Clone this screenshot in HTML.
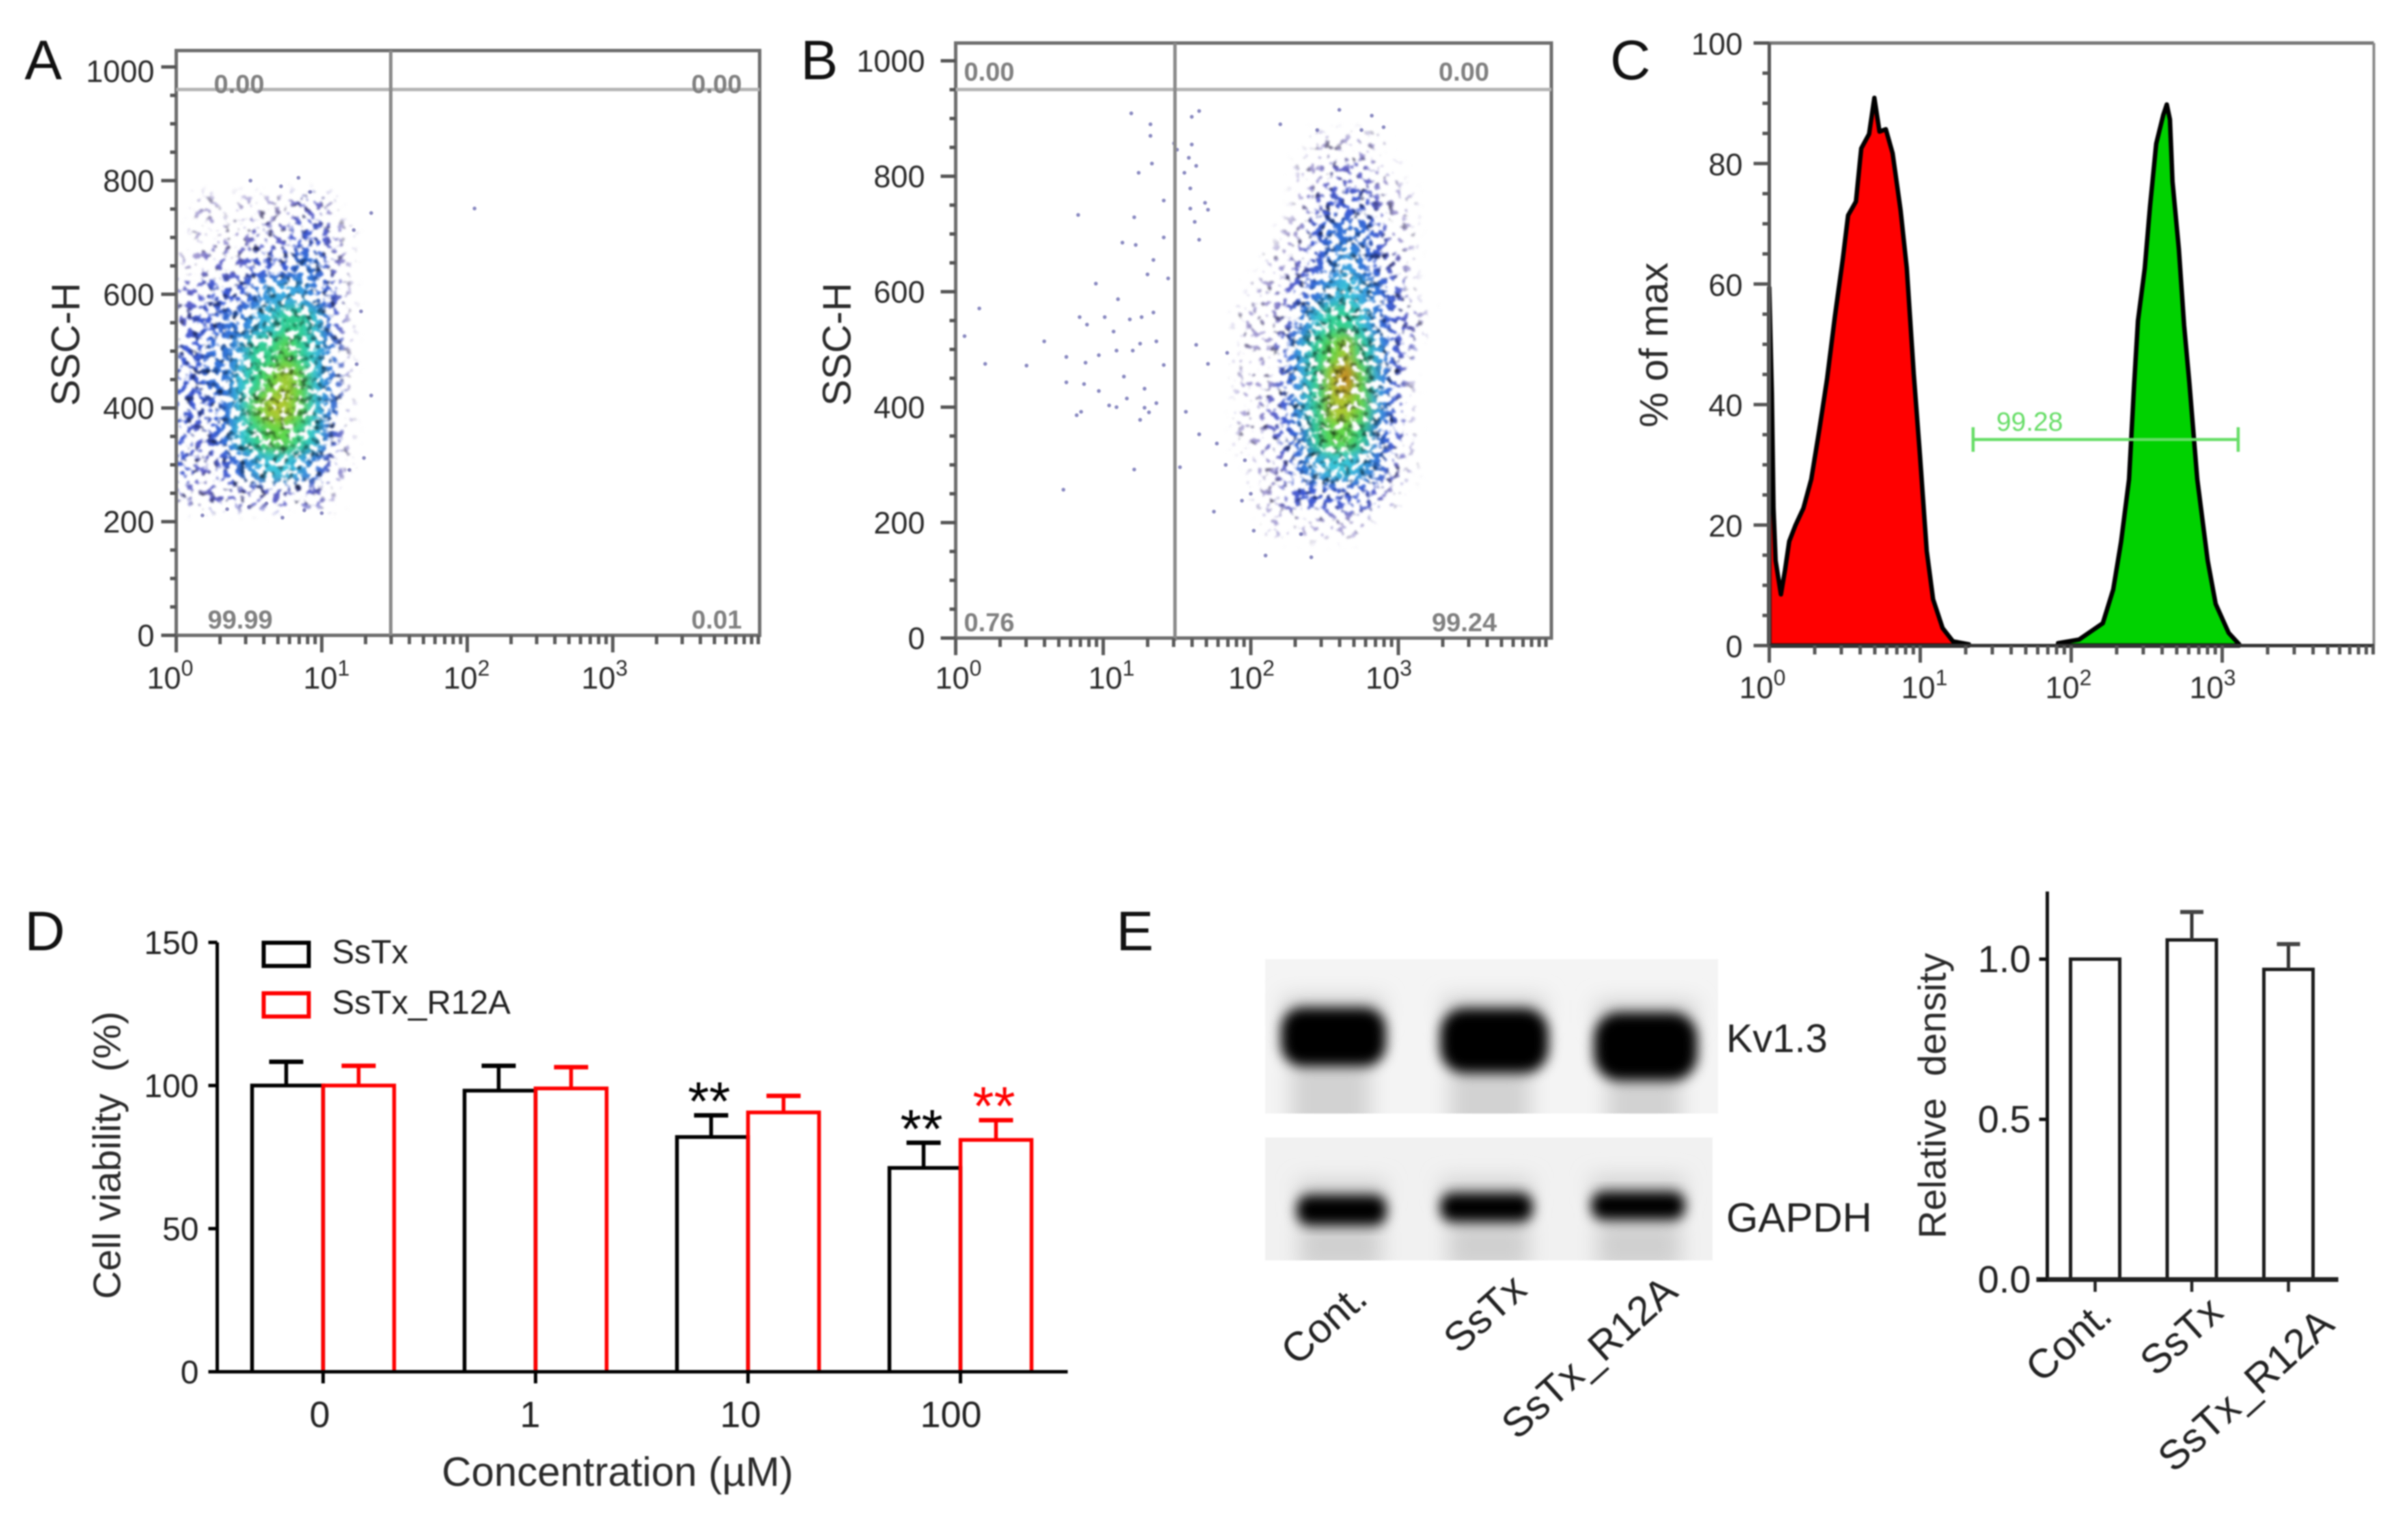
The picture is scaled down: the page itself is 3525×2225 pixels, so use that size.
<!DOCTYPE html>
<html lang="en">
<head>
<meta charset="utf-8">
<title>Flow cytometry, viability and western blot figure</title>
<style>
html,body{margin:0;padding:0;background:#fff;width:3525px;height:2225px;overflow:hidden}
#figure{position:absolute;left:0;top:0;filter:blur(1.1px)}
text{font-family:"Liberation Sans",sans-serif;fill:#222}
.letter{font-size:82px;fill:#111}
.flow-tick{font-size:45px;fill:#2a2a2a}
.gate-text{font-size:38px;font-weight:bold;fill:#808080}
.axis-title{font-size:58px;fill:#2a2a2a}
</style>
</head>
<body>
<svg id="figure" xmlns="http://www.w3.org/2000/svg" width="3525" height="2225" viewBox="0 0 3525 2225">
<defs>
  <filter id="speckle" filterUnits="userSpaceOnUse" x="0" y="0" width="3525" height="1100" color-interpolation-filters="sRGB">
    <feGaussianBlur in="SourceGraphic" stdDeviation="9" result="soft"/>
    <feColorMatrix in="soft" type="matrix" values="1 0 0 0 0 0 1 0 0 0 0 0 1 0 0 0 0 0 30 0" result="solid"/>
    <feColorMatrix in="soft" type="matrix" values="0 0 0 0 0 0 0 0 0 0 0 0 0 0 0 0 0 0 1 0" result="softA"/>
    <feTurbulence type="fractalNoise" baseFrequency="0.095" numOctaves="2" seed="7" result="noise"/>
    <feColorMatrix in="noise" type="matrix" values="0 0 0 0 0 0 0 0 0 0 0 0 0 0 0 3 0 0 0 -1" result="noiseA"/>
    <feComposite in="softA" in2="noiseA" operator="arithmetic" k1="0" k2="1" k3="1" k4="-1" result="sum"/>
    <feComponentTransfer in="sum" result="mask"><feFuncA type="linear" slope="2.6"/></feComponentTransfer>
    <feTurbulence type="fractalNoise" baseFrequency="0.1" numOctaves="2" seed="23" result="noise2"/>
    <feColorMatrix in="noise2" type="matrix" values="2 0 0 0 0 2 0 0 0 0 2 0 0 0 0 0 0 0 0 1" result="shade"/>
    <feBlend in="solid" in2="shade" mode="multiply" result="shaded"/>
    <feComposite in="shaded" in2="mask" operator="in" result="dots"/>
    <feGaussianBlur in="dots" stdDeviation="1.2"/>
  </filter>
  <filter id="blotBlur" x="-30%" y="-30%" width="160%" height="160%"><feGaussianBlur stdDeviation="9"/></filter>
  <filter id="smearBlur" x="-50%" y="-50%" width="200%" height="200%"><feGaussianBlur stdDeviation="15"/></filter>
  <clipPath id="clipA"><rect x="258" y="74" width="854" height="856"/></clipPath>
  <clipPath id="clipB"><rect x="1399" y="63" width="872" height="871"/></clipPath>
  <clipPath id="clipBlot1"><rect x="1852" y="1404" width="663" height="226"/></clipPath>
  <clipPath id="clipBlot2"><rect x="1852" y="1665" width="655" height="180"/></clipPath>
</defs>

<text class="letter" x="36" y="116">A</text>
<text class="letter" x="1172" y="116">B</text>
<text class="letter" x="2357" y="116">C</text>
<text class="letter" x="36" y="1391">D</text>
<text class="letter" x="1634" y="1391">E</text>

<g id="panelA"></g>
<g id="panelB"></g>
<g id="panelC"></g>
<g id="panelD"></g>

<g>
  <g clip-path="url(#clipBlot1)">
    <rect x="1852" y="1404" width="663" height="226" fill="#f4f4f4"/>
    <g filter="url(#smearBlur)" fill="#d2d2d2">
      <rect x="1890" y="1550" width="116" height="110"/>
      <rect x="2122" y="1560" width="118" height="100"/>
      <rect x="2352" y="1570" width="108" height="90"/>
      <rect x="1878" y="1458" width="148" height="40"/>
      <rect x="2112" y="1458" width="150" height="40"/>
      <rect x="2336" y="1464" width="146" height="40"/>
    </g>
    <g filter="url(#blotBlur)" fill="#000">
      <rect x="1875" y="1475" width="154" height="86" rx="32"/>
      <rect x="2108" y="1476" width="159" height="95" rx="36"/>
      <rect x="2333" y="1482" width="152" height="100" rx="38"/>
    </g>
  </g>
  <g clip-path="url(#clipBlot2)">
    <rect x="1852" y="1665" width="655" height="180" fill="#f1f1f1"/>
    <g filter="url(#smearBlur)" fill="#d0d0d0">
      <rect x="1902" y="1785" width="120" height="75"/>
      <rect x="2120" y="1785" width="118" height="75"/>
      <rect x="2338" y="1785" width="122" height="75"/>
      <rect x="1900" y="1728" width="128" height="30"/>
      <rect x="2110" y="1725" width="132" height="30"/>
      <rect x="2330" y="1722" width="136" height="30"/>
    </g>
    <g filter="url(#blotBlur)" fill="#000">
      <rect x="1898" y="1749" width="132" height="45" rx="18"/>
      <rect x="2108" y="1746" width="136" height="43" rx="18"/>
      <rect x="2329" y="1744" width="138" height="42" rx="18"/>
    </g>
  </g>
  <text x="2527" y="1540" font-size="58">Kv1.3</text>
  <text x="2527" y="1803" font-size="60">GAPDH</text>
  <text font-size="60" text-anchor="end" transform="translate(2005,1905) rotate(-42)">Cont.</text>
  <text font-size="60" text-anchor="end" transform="translate(2238,1892) rotate(-42)">SsTx</text>
  <text font-size="60" text-anchor="end" transform="translate(2459,1895) rotate(-42)">SsTx_R12A</text>
</g>

<g id="panelE"></g>
</svg>

<script>
/* ---------- panel A / B scatter data ---------- */
const flowDecades = [0, 1, 2, 3];
const flowYTicks = [0, 200, 400, 600, 800, 1000];
const flowQuadrantLabelsA = ['0.00', '0.00', '99.99', '0.01'];
const flowQuadrantLabelsB = ['0.00', '0.00', '0.76', '99.24'];

/* density levels 0-10: rows are SSC-H values, cols log10 bins */
const densityRowsA = [750, 700, 650, 600, 550, 500, 450, 400, 350, 300, 250];
const densityColsA = [0.05, 0.15, 0.25, 0.35, 0.45, 0.55, 0.65, 0.75, 0.85, 0.95, 1.05, 1.15, 1.25, 1.35];
const densityA = [
  [0,1,1,0,1,1,1,1,2,2,1,0,0,0],
  [0,1,1,1,1,2,2,2,3,3,2,1,0,0],
  [1,1,2,2,2,3,3,3,4,4,2,1,0,0],
  [2,2,3,3,3,4,5,5,5,4,3,1,0,0],
  [2,3,3,4,4,5,6,7,7,6,3,1,0,0],
  [3,3,4,4,5,7,7,8,7,6,4,1,0,0],
  [3,3,4,4,6,7,8,9,8,6,4,1,0,0],
  [3,3,3,4,6,8,9,9,8,6,4,1,0,0],
  [3,2,3,4,6,7,8,8,7,6,3,1,0,0],
  [3,2,2,3,4,5,6,6,5,4,2,1,0,0],
  [2,1,2,2,2,2,2,2,2,2,1,0,0,0]
];
const densityRowsB = [850, 800, 750, 700, 650, 600, 550, 500, 450, 400, 350, 300, 250, 200];
const densityColsB = [1.75, 1.85, 1.95, 2.05, 2.15, 2.25, 2.35, 2.45, 2.55, 2.65, 2.75, 2.85, 2.95, 3.05, 3.15, 3.25];
const densityB = [
  [0,0,0,0,0,0,0,1,1,1,1,1,0,0,0,0],
  [0,0,0,0,0,0,1,1,2,2,2,1,1,0,0,0],
  [0,0,0,0,0,0,1,2,3,3,3,2,1,1,0,0],
  [0,0,0,0,0,1,1,3,4,4,4,3,1,1,0,0],
  [0,0,0,0,1,1,2,3,4,5,4,3,2,1,0,0],
  [0,0,0,1,1,2,3,4,5,6,5,4,3,1,0,0],
  [0,0,1,1,1,2,4,6,7,7,6,4,3,2,1,0],
  [0,0,1,1,1,3,5,7,8,9,7,5,3,2,0,0],
  [0,0,1,1,1,3,5,7,9,10,8,5,3,1,0,0],
  [0,0,1,1,2,3,5,7,9,9,8,5,3,1,0,0],
  [0,0,1,1,2,3,4,7,8,8,7,4,3,1,0,0],
  [0,0,0,1,1,2,4,5,6,6,5,4,2,1,0,0],
  [0,0,0,1,1,2,3,3,3,3,3,2,1,0,0,0],
  [0,0,0,0,1,1,1,1,1,1,1,0,0,0,0,0]
];
/* isolated events: [log10 FL, SSC-H] */
const sparseEventsA = [[2.05,751],[1.34,743],[1.22,713],[1.27,570],[1.24,477],[1.34,422],[1.29,312],[1.19,291],[1.0,215],[.73,207],[.18,211],[.51,800],[.84,805],[.72,790],[.92,780],[.35,222],[.5,226],[.62,232],[.88,220]];
const sparseEventsB = [[1.19,909],[1.32,890],[1.32,870],[1.48,857],[1.50,846],[1.60,903],[1.65,913],[1.60,855],[1.58,832],[1.63,818],[1.55,806],[1.24,806],[1.33,822],[.83,733],[1.41,758],[1.59,779],[1.69,754],[1.71,742],[1.59,744],[1.62,721],[1.65,690],[1.41,694],[1.21,729],[1.13,685],[1.22,681],[1.34,655],[1.30,630],[1.44,623],[.95,614],[1.10,587],[1.34,564],[1.18,552],[1.26,556],[.16,571],[.06,523],[.84,556],[.89,543],[1.01,556],[1.07,531],[.60,514],[1.25,510],[1.36,514],[1.20,498],[1.09,498],[.97,490],[.75,487],[.20,475],[.48,472],[.88,477],[1.41,473],[1.14,453],[.87,440],[.75,443],[.97,428],[1.28,432],[1.36,407],[1.04,403],[1.09,400],[1.16,415],[1.28,399],[1.25,378],[1.31,391],[.85,392],[.82,386],[1.21,292],[1.52,296],[.73,257],[1.63,508],[1.71,475],[1.84,494],[1.56,392],[1.65,353],[1.77,337],[1.83,300],[1.96,308],[2.00,250],[1.94,238],[1.75,219],[2.02,186],[2.10,143],[2.41,140],[2.34,180],[2.2,890],[2.6,915],[2.75,880],[2.82,905],[2.9,885],[2.45,880]];

/* ---------- panel C histogram data ---------- */
const histYTicks = [0, 20, 40, 60, 80, 100];
const redLogX = [0,.017,.028,.042,.077,.104,.132,.174,.226,.278,.33,.383,.435,.487,.522,.574,.609,.661,.696,.73,.772,.817,.87,.911,.957,.998,1.043,1.085,1.148,1.217,1.322];
const redPct = [59.4,41.9,22.8,14.1,8.5,12.5,17.3,20,22.8,27.6,35.6,44.3,54.7,64.2,71.4,73.7,82.5,84.9,90.9,85.3,85.7,81.7,72.2,62.6,45.1,31.6,15.7,7.7,2.9,.7,.2];
const greenLogX = [1.913,2.052,2.209,2.278,2.33,2.383,2.417,2.442,2.487,2.522,2.563,2.609,2.633,2.654,2.671,2.713,2.748,2.783,2.835,2.904,2.957,3.043,3.113];
const greenPct = [.4,1,3.7,9.3,17.2,27.6,43.5,53.9,62.6,72.9,83.3,88,89.8,87.3,77,65.8,53.1,43.5,27.6,14.1,6.9,2.1,.2];
const markerRange = [1.35, 3.106];
const markerPct = [34.2];
const markerLabel = ['99.28'];

/* ---------- panel D bars data ---------- */
const concLabels = ['0', '1', '10', '100'];
const viabilityTicks = [0, 50, 100, 150];
const sstxValues = [100, 98.2, 82, 71.2];
const sstxErrors = [8.3, 8.7, 7.6, 8.8];
const r12aValues = [100, 99, 90.6, 81];
const r12aErrors = [6.9, 7.4, 5.8, 6.9];
const sstxSig = ['', '', '**', '**'];
const r12aSig = ['', '', '', '**'];
const legendNames = ['SsTx', 'SsTx_R12A'];

/* ---------- panel E bars data ---------- */
const densityCats = ['Cont.', 'SsTx', 'SsTx_R12A'];
const densityVals = [1, 1.06, 0.968];
const densityErrs = [0, 0.087, 0.079];
const densityTicks = ['0.0', '0.5', '1.0'];

/* ---------- helpers ---------- */
const NS = 'http://www.w3.org/2000/svg';
function mk(parent, tag, attrs, text) {
  const el = document.createElementNS(NS, tag);
  for (const k in attrs) el.setAttribute(k, attrs[k]);
  if (text !== undefined) el.textContent = text;
  parent.appendChild(el);
  return el;
}
function line(parent, x1, y1, x2, y2, stroke, w) {
  return mk(parent, 'line', {x1: x1, y1: y1, x2: x2, y2: y2, stroke: stroke, 'stroke-width': w});
}
const levelColor = [null,'#8f86c8','#5f62c8','#3c58d4','#3070d8','#38a8e0','#38c8d8','#30d090','#60d848','#b0c830','#d08020'];
const levelAlpha = [0,.30,.44,.60,.72,.84,.92,.96,1,1,1];

function logTicks(g, xScale, y0, major, minor, stroke) {
  flowDecades.forEach(function (d) {
    for (let m = 2; m <= 10; m++) {
      const isMajor = m === 10;
      const t = line(g, xScale(d + Math.log10(m)), y0, xScale(d + Math.log10(m)), y0 + (isMajor && d < 3 ? major : minor), stroke, 5);
      
      
    }
  });
  const first = line(g, xScale(0), y0, xScale(0), y0 + major, stroke, 5);
  
  
}
function decadeLabels(g, xScale, base, labelShift) {
  flowDecades.forEach(function (d) {
    const t = mk(g, 'text', {x: xScale(d) + labelShift(d), y: base, 'class': 'flow-tick'}, '10');
    
    
    const s = mk(t, 'tspan', {dy: -19, 'font-size': 32}, String(d));
    
    
  });
}

function drawScatter(g, cfg, rows, cols, density, sparse, quad) {
  const xS = function (v) { return cfg.left + v * cfg.decade; };
  const yS = function (v) { return cfg.y0 - v * cfg.unit; };

  const clip = mk(g, 'g', {'clip-path': 'url(#' + cfg.clip + ')'});
  
  
  const dens = mk(clip, 'g', {filter: 'url(#speckle)'});
  
  
  rows.forEach(function (rv, r) {
    cols.forEach(function (cv, c) {
      const lv = density[r][c];
      if (!lv) return;
      const cell = mk(dens, 'rect', {
        x: xS(cv - 0.05), y: yS(rv + 25), width: xS(0.1) - xS(0) + 1, height: yS(0) - yS(50) + 1,
        fill: levelColor[lv], 'fill-opacity': levelAlpha[lv]
      });
      
      
    });
  });
  sparse.forEach(function (p) {
    const dot = mk(clip, 'circle', {cx: xS(p[0]), cy: yS(p[1]), r: 2.8, fill: '#6a6ab0', 'fill-opacity': .8});
    
    
  });

  /* frame and gates */
  const frame = mk(g, 'rect', {x: cfg.left, y: cfg.top, width: cfg.right - cfg.left, height: cfg.y0 - cfg.top, fill: 'none', stroke: '#6e6e6e', 'stroke-width': 5});
  
  
  const gh = line(g, cfg.left, cfg.gateY, cfg.right, cfg.gateY, '#b4b4b4', 5);
  
  
  const gv = line(g, cfg.gateX, cfg.top, cfg.gateX, cfg.y0 + 4, '#8a8a8a', 5);
  
  

  /* y ticks */
  flowYTicks.forEach(function (v) {
    const t = line(g, cfg.left - 22, yS(v), cfg.left, yS(v), '#555', 5);
    
    
    const nudge = v === 1000 ? cfg.topLabelNudge : 0;
    const l = mk(g, 'text', {x: cfg.labelRight, y: yS(v) + 16 + nudge, 'text-anchor': 'end', 'class': 'flow-tick'}, String(v));
    
    
  });
  for (let v = 50; v < 1000; v += 50) {
    if (v % 200 === 0) continue;
    const t = line(g, cfg.left - 9, yS(v), cfg.left, yS(v), '#555', 5);
    
    
  }
  logTicks(g, xS, cfg.y0, 25, 13, '#5a5a5a');
  decadeLabels(g, xS, cfg.tickBase, function (d) { return cfg.labelOffset[d]; });

  const title = mk(g, 'text', {'class': 'axis-title', 'text-anchor': 'middle', transform: 'translate(' + cfg.titleX + ',504) rotate(-90)'}, 'SSC-H');
  
  

  cfg.quad.forEach(function (q, i) {
    const t = mk(g, 'text', {x: q[0], y: q[1], 'class': 'gate-text'}, quad[i]);
    
    
  });
}

drawScatter(document.getElementById('panelA'), {
  left: 258, right: 1112, top: 74, y0: 930, decade: 213, unit: 0.832, clip: 'clipA',
  gateX: 572, gateY: 131, labelRight: 226, titleX: 116, tickBase: 1008, topLabelNudge: 6,
  labelOffset: [-43, -27, -35, -46],
  quad: [[313, 136], [1012, 136], [304, 920], [1012, 920]]
}, densityRowsA, densityColsA, densityA, sparseEventsA, flowQuadrantLabelsA);

drawScatter(document.getElementById('panelB'), {
  left: 1399, right: 2271, top: 63, y0: 934, decade: 216, unit: 0.845, clip: 'clipB',
  gateX: 1720, gateY: 131, labelRight: 1354, titleX: 1245, tickBase: 1008, topLabelNudge: 0,
  labelOffset: [-30, -22, -33, -48],
  quad: [[1411, 118], [2106, 118], [1411, 924], [2096, 924]]
}, densityRowsB, densityColsB, densityB, sparseEventsB, flowQuadrantLabelsB);

/* ---------- panel C ---------- */
(function () {
  const g = document.getElementById('panelC');
  const left = 2590, right = 3475, top = 63, y0 = 945;
  const xS = function (v) { return left + v * 221; };
  const yS = function (v) { return y0 - v * 8.82; };
  function areaPath(xs, ys) {
    let d = 'M' + xS(xs[0]) + ' ' + yS(0);
    xs.forEach(function (x, i) { d += 'L' + xS(x) + ' ' + yS(ys[i]); });
    return d + 'L' + xS(xs[xs.length - 1]) + ' ' + yS(0) + 'Z';
  }
  const red = mk(g, 'path', {d: areaPath(redLogX, redPct), fill: '#ff0000', stroke: '#000', 'stroke-width': 6.5, 'stroke-linejoin': 'round'});
  
  
  const green = mk(g, 'path', {d: areaPath(greenLogX, greenPct), fill: '#00d200', stroke: '#000', 'stroke-width': 6.5, 'stroke-linejoin': 'round'});
  
  

  const mY = yS(markerPct[0]);
  const m = line(g, xS(markerRange[0]), mY, xS(markerRange[1]), mY, '#66dd66', 4.5);
  
  
  markerRange.forEach(function (v) {
    const c = line(g, xS(v), mY - 18, xS(v), mY + 18, '#66dd66', 4.5);
    
    
  });
  const ml = mk(g, 'text', {x: xS(markerRange[0]) + 34, y: mY - 13, 'font-size': 39, style: 'fill:#66dd66'}, markerLabel[0]);
  
  

  const tb = line(g, left, top, right, top, '#777', 5);
  
  
  const rb = line(g, right, top, right, y0, '#888', 4);
  
  
  const lb = line(g, left, top, left, y0, '#555', 5);
  
  
  const bb = line(g, left - 22, y0, right, y0, '#333', 5);
  
  

  histYTicks.forEach(function (v) {
    const t = line(g, left - 23, yS(v), left, yS(v), '#555', 5);
    
    
    const l = mk(g, 'text', {x: 2551, y: yS(v) + 17, 'text-anchor': 'end', 'class': 'flow-tick'}, String(v));
    
    
  });
  for (let v = 5; v < 100; v += 5) {
    if (v % 20 === 0) continue;
    const t = line(g, left - 10, yS(v), left, yS(v), '#555', 5);
    
    
  }
  logTicks(g, xS, y0, 25, 13, '#555');
  const off = [-44, -28, -38, -48];
  decadeLabels(g, xS, 1022, function (d) { return off[d]; });
  const title = mk(g, 'text', {'class': 'axis-title', 'text-anchor': 'middle', transform: 'translate(2441,505) rotate(-90)'}, '% of max');
  
  
})();

/* ---------- panel D ---------- */
(function () {
  const g = document.getElementById('panelD');
  const axisX = 318, baseY = 2008, barW = 104, stroke = 5.5;
  const xS = function (i) { return 473 + i * 311; };
  const labelX = function (i) { return 468 + i * 308; };
  const yS = function (v) { return baseY - v * 4.19; };
  function bars(values, errors, sig, dir, color, name) {
    values.forEach(function (v, i) {
      const x0 = dir < 0 ? xS(i) - barW : xS(i);
      const mid = x0 + barW / 2 + (dir < 0 ? -2 : 0);
      const top = yS(v), err = yS(v + errors[i]);
      const b = mk(g, 'path', {d: 'M' + x0 + ' ' + baseY + 'V' + top + 'H' + (x0 + barW) + 'V' + baseY, fill: 'none', stroke: color, 'stroke-width': stroke});
      
      
      const e = line(g, mid, top, mid, err, color, stroke);
      
      
      const c = line(g, mid - 25, err, mid + 25, err, color, stroke + 1);
      
      
      if (sig[i]) {
        const s = mk(g, 'text', {x: mid - 3, y: err + 7, 'text-anchor': 'middle', 'font-size': 80, style: 'fill:' + color}, sig[i]);
        
        
      }
    });
  }
  bars(sstxValues, sstxErrors, sstxSig, -1, '#000', 'sstx');
  bars(r12aValues, r12aErrors, r12aSig, 1, '#ff0000', 'r12a');

  const ya = line(g, axisX, yS(150), axisX, baseY, '#000', 5);
  
  
  const xa = line(g, axisX - 13, baseY, 1563, baseY, '#000', 5);
  
  
  viabilityTicks.forEach(function (v) {
    const t = line(g, axisX - 13, yS(v), axisX, yS(v), '#000', 5);
    
    
    const l = mk(g, 'text', {x: 291, y: yS(v) + 17, 'text-anchor': 'end', 'font-size': 48}, String(v));
    
    
  });
  concLabels.forEach(function (c, i) {
    const t = line(g, xS(i), baseY, xS(i), baseY + 17, '#000', 5);
    
    
    const l = mk(g, 'text', {x: labelX(i), y: 2089, 'text-anchor': 'middle', 'font-size': 54}, c);
    
    
  });
  const yt = mk(g, 'text', {'text-anchor': 'middle', 'font-size': 57, transform: 'translate(176,1691) rotate(-90)', style: 'white-space:pre;fill:#2a2a2a'}, 'Cell viability  (%)');
  
  
  const xt = mk(g, 'text', {x: 904, y: 2175, 'text-anchor': 'middle', 'font-size': 60, style: 'fill:#2a2a2a'}, 'Concentration (\u00B5M)');
  
  

  legendNames.forEach(function (n, i) {
    const color = i === 0 ? '#000' : '#ff0000';
    const y = 1380 + i * 74;
    const sw = mk(g, 'rect', {x: 386, y: y, width: 66, height: 34, fill: 'none', stroke: color, 'stroke-width': 6});
    
    
    const tx = mk(g, 'text', {x: 486, y: y + 30, 'font-size': 49}, n);
    
    
  });
})();

/* ---------- panel E bars ---------- */
(function () {
  const g = document.getElementById('panelE');
  const axisX = 2997, baseY = 1873, barW = 72;
  const centers = function (i) { return 3067 + i * 141.5; };
  const yS = function (v) { return baseY - v * 469; };
  const labelEndX = function (i) { return 3095 + i * 162.5; };
  const labelEndY = function (i) { return i === 2 ? 1943 : 1930 - i * 5; };
  densityCats.forEach(function (c, i) {
    const x0 = centers(i) - barW / 2, top = yS(densityVals[i]), err = yS(densityVals[i] + densityErrs[i]);
    const b = mk(g, 'path', {d: 'M' + x0 + ' ' + baseY + 'V' + top + 'H' + (x0 + barW) + 'V' + baseY, fill: 'none', stroke: '#1a1a1a', 'stroke-width': 5});
    
    
    if (densityErrs[i] > 0) {
      const e = line(g, centers(i), top, centers(i), err, '#333', 5);
      
      
      const cap = line(g, centers(i) - 17, err, centers(i) + 17, err, '#444', 6);
      
      
    }
    const t = line(g, centers(i), baseY, centers(i), baseY + 18, '#222', 4.5);
    
    
    const l = mk(g, 'text', {'text-anchor': 'end', 'font-size': 60, transform: 'translate(' + labelEndX(i) + ',' + labelEndY(i) + ') rotate(-42)'}, c);
    
    
  });
  const ya = line(g, axisX, 1305, axisX, baseY, '#111', 5);
  
  
  const xa = line(g, 2981, baseY, 3423, baseY, '#222', 7);
  
  
  densityTicks.forEach(function (s) {
    const v = parseFloat(s);
    const t = line(g, axisX - 12, yS(v), axisX, yS(v), '#111', 5);
    
    
    const l = mk(g, 'text', {x: 2973, y: yS(v) + 19, 'text-anchor': 'end', 'font-size': 56}, s);
    
    
  });
  const yt = mk(g, 'text', {'text-anchor': 'middle', 'font-size': 57, transform: 'translate(2848,1604) rotate(-90)', style: 'white-space:pre;fill:#2a2a2a'}, 'Relative  density');
  
  
})();
</script>
</body>
</html>
